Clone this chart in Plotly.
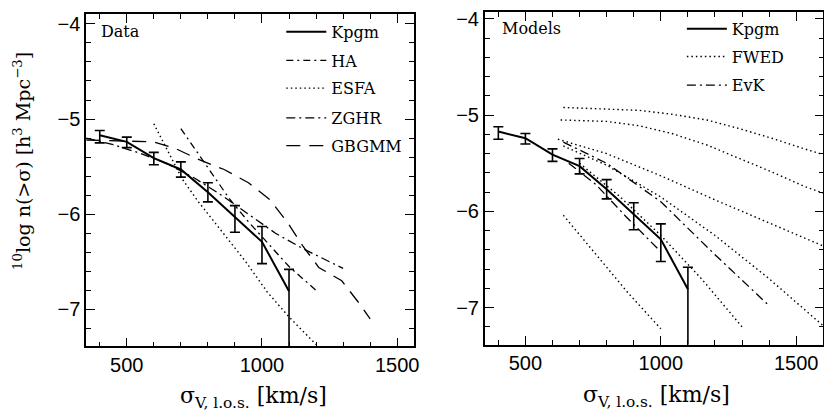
import plotly.graph_objects as go

# ---------------- data ----------------
kpgm_x = [400, 500, 600, 700, 800, 900, 1000, 1100]
kpgm_y = [-5.17, -5.24, -5.41, -5.53, -5.77, -6.03, -6.29, -6.81]
kpgm_hi = [-5.12, -5.19, -5.35, -5.45, -5.67, -5.91, -6.13, -6.58]
kpgm_lo = [-5.25, -5.30, -5.48, -5.61, -5.87, -6.19, -6.52, -7.60]

ha_x = [700, 760, 820, 880, 950, 1020, 1100, 1200]
ha_y = [-5.10, -5.35, -5.60, -5.84, -6.08, -6.30, -6.55, -6.80]

esfa_x = [600, 655, 705, 765, 840, 940, 1020, 1100, 1200]
esfa_y = [-5.05, -5.36, -5.63, -5.87, -6.14, -6.50, -6.82, -7.08, -7.37]

zghr_x = [350, 450, 550, 650, 750, 850, 950, 1050, 1150, 1300]
zghr_y = [-5.20, -5.27, -5.36, -5.47, -5.62, -5.80, -6.00, -6.20, -6.36, -6.57]

gbgmm_x = [350, 500, 600, 680, 770, 860, 950, 1030, 1095, 1150, 1210, 1295, 1355, 1400]
gbgmm_y = [-5.22, -5.23, -5.24, -5.31, -5.43, -5.53, -5.67, -5.85, -6.09, -6.33, -6.56, -6.70, -6.92, -7.10]

fwed_x = [
    [640, 800, 920, 1040, 1170, 1290, 1410, 1530, 1600],
    [630, 800, 920, 1040, 1170, 1290, 1410, 1530, 1600],
    [620, 800, 1000, 1200, 1400, 1600],
    [640, 800, 1000, 1200, 1400, 1600],
    [700, 850, 1000, 1150, 1300],
    [640, 760, 880, 1000],
]
fwed_y = [
    [-4.92, -4.935, -4.95, -4.99, -5.05, -5.14, -5.24, -5.35, -5.41],
    [-5.05, -5.065, -5.11, -5.19, -5.31, -5.45, -5.59, -5.74, -5.81],
    [-5.25, -5.40, -5.63, -5.88, -6.12, -6.36],
    [-5.32, -5.52, -5.85, -6.25, -6.70, -7.19],
    [-5.50, -5.85, -6.25, -6.70, -7.20],
    [-6.04, -6.45, -6.85, -7.22],
]
evk_x = [
    [640, 800, 1000, 1200, 1400],
    [660, 760, 870, 1000],
]
evk_y = [
    [-5.28, -5.50, -5.90, -6.45, -6.98],
    [-5.50, -5.72, -6.05, -6.42],
]

x_ticks = [500, 1000, 1500]
y_ticks = [-4, -5, -6, -7]

FONT = "DejaVu Serif"
TICKFONT = "Liberation Sans"
BLACK = "black"

fig = go.Figure()

up = [h - v for v, h in zip(kpgm_y, kpgm_hi)]
dn = [v - l for v, l in zip(kpgm_y, kpgm_lo)]

for ax, yax, leg in (("x", "y", "legend"), ("x2", "y2", "legend6")):
    fig.add_trace(go.Scatter(
        x=kpgm_x, y=kpgm_y, mode="lines", name="Kpgm",
        line=dict(color=BLACK, width=2),
        error_y=dict(type="data", symmetric=False, array=up, arrayminus=dn,
                     color=BLACK, thickness=1.6, width=5),
        xaxis=ax, yaxis=yax, legend=leg))

fig.add_trace(go.Scatter(x=ha_x, y=ha_y, mode="lines", name="HA",
                         line=dict(color=BLACK, width=1.3, dash="7px,4px,2px,4px"),
                         xaxis="x", yaxis="y", legend="legend2"))
fig.add_trace(go.Scatter(x=esfa_x, y=esfa_y, mode="lines", name="ESFA",
                         line=dict(color=BLACK, width=1.4, dash="1.5px,3px"),
                         xaxis="x", yaxis="y", legend="legend3"))
fig.add_trace(go.Scatter(x=zghr_x, y=zghr_y, mode="lines", name="ZGHR",
                         line=dict(color=BLACK, width=1.3, dash="9px,4px,2px,4px"),
                         xaxis="x", yaxis="y", legend="legend4"))
fig.add_trace(go.Scatter(x=gbgmm_x, y=gbgmm_y, mode="lines", name="GBGMM",
                         line=dict(color=BLACK, width=1.3, dash="14px,9px"),
                         xaxis="x", yaxis="y", legend="legend5"))

for i, (xs, ys) in enumerate(zip(fwed_x, fwed_y)):
    fig.add_trace(go.Scatter(x=xs, y=ys, mode="lines", name="FWED",
                             line=dict(color=BLACK, width=1.4, dash="1.5px,3px"),
                             showlegend=(i == 0),
                             xaxis="x2", yaxis="y2", legend="legend7"))
for i, (xs, ys) in enumerate(zip(evk_x, evk_y)):
    fig.add_trace(go.Scatter(x=xs, y=ys, mode="lines", name="EvK",
                             line=dict(color=BLACK, width=1.3, dash="9px,4px,2px,4px"),
                             showlegend=(i == 0),
                             xaxis="x2", yaxis="y2", legend="legend8"))

axis_common = dict(
    showgrid=False, zeroline=False, showline=True, linecolor=BLACK, linewidth=1.6,
    mirror="allticks", ticks="inside", ticklen=9, tickwidth=1.3, tickcolor=BLACK,
    tickfont=dict(family=TICKFONT, size=20, color=BLACK), ticklabeloverflow="allow",
)
minor_x = dict(dtick=100, tick0=0, ticks="inside", ticklen=5, tickcolor=BLACK, tickwidth=1)
minor_y = dict(dtick=0.2, tick0=0, ticks="inside", ticklen=5, tickcolor=BLACK, tickwidth=1)

def leg(x, y):
    return dict(x=x, y=y, xanchor="left", yanchor="middle", bgcolor="rgba(0,0,0,0)",
                font=dict(family=FONT, size=16, color=BLACK), itemwidth=40)

fig.update_layout(
    width=824, height=404,
    margin=dict(l=0, r=0, t=0, b=0),
    paper_bgcolor="white", plot_bgcolor="white",
    showlegend=True,
    xaxis=dict(domain=[0.09551, 0.49600], range=[350, 1563], anchor="y",
               tickvals=x_ticks, minor=minor_x, **axis_common),
    yaxis=dict(domain=[0.1641, 0.9950], range=[-7.389, -3.896], anchor="x",
               tickvals=y_ticks, minor=minor_y, **axis_common),
    xaxis2=dict(domain=[0.58216, 0.99551], range=[350, 1600], anchor="y2",
                tickvals=x_ticks, minor=minor_x, **axis_common),
    yaxis2=dict(domain=[0.1683, 1.0], range=[-7.385, -3.928], anchor="x2",
                tickvals=y_ticks, minor=minor_y, **axis_common),
    legend=leg(0.3337, 0.9505),
    legend2=leg(0.3337, 0.8787),
    legend3=leg(0.3337, 0.8094),
    legend4=leg(0.3337, 0.7351),
    legend5=leg(0.3337, 0.6658),
    legend6=leg(0.8228, 0.9579),
    legend7=leg(0.8228, 0.8886),
    legend8=leg(0.8228, 0.8168),
    annotations=[
        dict(text="Data", x=0.1117, y=0.9505, xref="paper", yref="paper", xanchor="left",
             yanchor="middle", showarrow=False, font=dict(family=FONT, size=16, color=BLACK)),
        dict(text="Models", x=0.6007, y=0.9579, xref="paper", yref="paper", xanchor="left",
             yanchor="middle", showarrow=False, font=dict(family=FONT, size=16, color=BLACK)),
        dict(text="σ<sub>V, l.o.s.</sub> [km/s]", x=0.2998, y=0.0371, xref="paper", yref="paper",
             xanchor="center", yanchor="middle", showarrow=False,
             font=dict(family=FONT, size=22, color=BLACK)),
        dict(text="σ<sub>V, l.o.s.</sub> [km/s]", x=0.7913, y=0.0396, xref="paper", yref="paper",
             xanchor="center", yanchor="middle", showarrow=False,
             font=dict(family=FONT, size=22, color=BLACK)),
        dict(text="<sup>10</sup>log n(>σ) [h<sup>3</sup> Mpc<sup>−3</sup>]", x=0.017,
             y=0.6275, xref="paper", yref="paper", xanchor="center", yanchor="middle",
             textangle=-90, showarrow=False, font=dict(family=FONT, size=19, color=BLACK)),
    ],
)

fig.write_html("out.html")
